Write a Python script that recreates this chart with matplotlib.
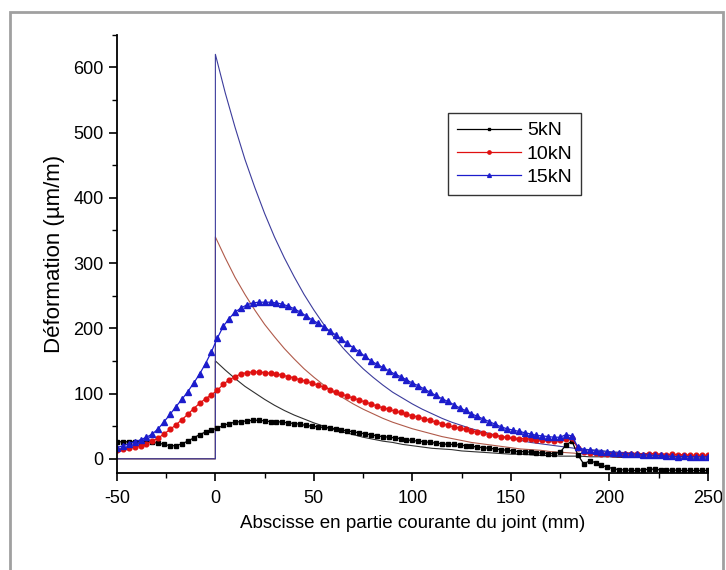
import matplotlib
matplotlib.use("Agg")
import matplotlib.pyplot as plt
from matplotlib.patches import Rectangle
from matplotlib.ticker import MultipleLocator
import numpy as np

plt.rcParams['font.family'] = ['Liberation Sans', 'DejaVu Sans']
plt.rcParams['axes.unicode_minus'] = False

# measured points, one every 3 mm from -50 to 250
x_mes = np.arange(-50, 251, 3)

mes_5kN = [26, 26, 26, 26, 26, 26, 25, 24, 22, 20,
           20, 23, 27, 32, 37, 41, 44, 47, 51, 54,
           56, 57, 58, 59, 59, 58, 57, 57, 56, 55,
           54, 53, 51, 50, 49, 48, 47, 46, 44, 43,
           41, 40, 38, 37, 35, 34, 33, 32, 31, 29,
           28, 27, 26, 25, 24, 23, 22, 22, 21, 20,
           19, 18, 17, 16, 15, 14, 13, 12, 11, 11,
           10, 9, 9, 8, 8, 10, 21, 27, 6, -8,
           -3, -6, -10, -13, -15, -17, -17, -18, -18, -17,
           -16, -16, -17, -18, -17, -18, -18, -18, -18, -18,
           -18]

mes_10kN = [14, 15, 16, 18, 20, 23, 27, 32, 38, 45,
            52, 60, 68, 77, 85, 92, 98, 105, 114, 121,
            126, 130, 132, 133, 133, 132, 131, 130, 128, 126,
            124, 121, 119, 116, 113, 110, 106, 102, 99, 96,
            93, 90, 87, 84, 81, 78, 76, 73, 71, 68,
            66, 64, 61, 59, 56, 54, 51, 49, 47, 45,
            43, 41, 39, 37, 36, 34, 33, 32, 31, 31,
            30, 29, 28, 28, 27, 28, 31, 32, 16, 10,
            9, 9, 8, 8, 8, 7, 7, 7, 7, 6,
            7, 8, 6, 6, 7, 6, 6, 5, 5, 5,
            5]

mes_15kN = [17, 20, 23, 26, 29, 33, 38, 46, 57, 68,
            80, 91, 103, 116, 130, 146, 164, 185, 203, 215,
            225, 231, 236, 239, 240, 240, 240, 239, 237, 234,
            230, 225, 219, 213, 208, 202, 196, 190, 183, 177,
            170, 164, 157, 150, 145, 140, 135, 130, 126, 121,
            116, 112, 107, 102, 97, 92, 88, 83, 78, 74,
            69, 65, 61, 57, 53, 49, 46, 44, 42, 40,
            38, 36, 35, 34, 33, 33, 37, 35, 18, 14,
            13, 12, 11, 10, 9, 9, 8, 8, 7, 6,
            6, 5, 5, 4, 4, 3, 4, 3, 3, 3,
            3]

# theoretical curves: zero before the joint, jump at x = 0, then every 5 mm
x_th = [-50, 0] + list(range(0, 251, 5))

th_5kN = [0, 0,
          150, 136, 123, 111, 101, 91, 82, 74, 67, 61,
          55, 50, 45, 41, 37, 33, 30, 27, 25, 22,
          20, 18, 16, 15, 14, 12, 11, 10, 9, 8,
          7, 7, 6, 5, 5, 4, 4, 4, 3, 3,
          3, 2, 2, 2, 2, 2, 1, 1, 1, 1, 1]

th_10kN = [0, 0,
           340, 308, 278, 252, 228, 206, 187, 169, 153, 138,
           125, 113, 102, 93, 84, 76, 69, 62, 56, 51,
           46, 42, 38, 34, 31, 28, 25, 23, 21, 19,
           17, 15, 14, 13, 11, 10, 9, 8, 8, 7,
           6, 6, 5, 5, 4, 4, 3, 3, 3, 3, 2]

th_15kN = [0, 0,
           620, 561, 508, 459, 416, 376, 340, 308, 279, 252,
           228, 206, 187, 169, 153, 138, 125, 113, 102, 93,
           84, 76, 69, 62, 56, 51, 46, 42, 38, 34,
           31, 28, 25, 23, 21, 19, 17, 15, 14, 13,
           11, 10, 9, 8, 8, 7, 6, 6, 5, 5, 4]

fig = plt.figure(figsize=(7.26, 5.70), dpi=100)
ax = fig.add_axes([0.161, 0.170, 0.814, 0.769])

# gray frame around the whole picture
fig.patches.append(Rectangle((10 / 726, -0.05), 713 / 726, 1.05 - 12 / 570,
                             transform=fig.transFigure, fill=False,
                             edgecolor='#a0a0a0', linewidth=2))

# theoretical lines
ax.plot(x_th, th_5kN, color='#303030', linewidth=0.8)
ax.plot(x_th, th_10kN, color='#b05a4a', linewidth=0.8)
ax.plot(x_th, th_15kN, color='#3c3c9c', linewidth=0.8)

# measured lines
ax.plot(x_mes, mes_5kN, color='black', linewidth=0.9, marker='s',
        markersize=3.0, label='5kN')
ax.plot(x_mes, mes_10kN, color='#e01010', linewidth=0.9, marker='o',
        markersize=3.4, label='10kN')
ax.plot(x_mes, mes_15kN, color='#1c1ccc', linewidth=0.9, marker='^',
        markersize=3.9, label='15kN')

ax.set_xlim(-50, 250)
ax.set_ylim(-22, 650)
ax.xaxis.set_major_locator(MultipleLocator(50))
ax.xaxis.set_minor_locator(MultipleLocator(25))
ax.yaxis.set_major_locator(MultipleLocator(100))
ax.yaxis.set_minor_locator(MultipleLocator(50))
ax.spines['top'].set_visible(False)
ax.spines['right'].set_visible(False)
ax.spines['left'].set_linewidth(1.3)
ax.spines['bottom'].set_linewidth(1.3)
ax.tick_params(which='major', direction='out', length=6, width=1.2,
               labelsize=13, colors='black')
ax.tick_params(axis='x', which='major', pad=6)
ax.tick_params(which='minor', direction='out', length=3.5, width=1.0)

ax.set_xlabel('Abscisse en partie courante du joint (mm)', fontsize=13.5,
              labelpad=6)
ax.set_ylabel('Déformation (µm/m)', fontsize=16, labelpad=6)

leg = ax.legend(loc='upper left', bbox_to_anchor=(448 / 726, 1 - 113 / 570),
                bbox_transform=fig.transFigure, borderaxespad=0,
                fontsize=14, frameon=True, fancybox=False,
                handlelength=3.3, borderpad=0.45, labelspacing=0.3,
                handletextpad=0.3, markerscale=0.7)
leg.get_frame().set_edgecolor('black')
leg.get_frame().set_linewidth(1.0)

fig.savefig('out.png', dpi=100)
